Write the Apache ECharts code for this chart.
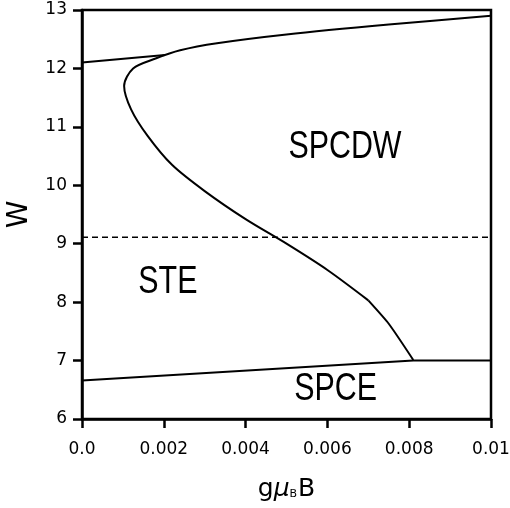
<!DOCTYPE html>
<html>
<head>
    <meta charset="utf-8">
    <title>Phase diagram</title>
    <script src="https://cdn.jsdelivr.net/npm/echarts@6/dist/echarts.min.js"></script>
</head>
<body style="margin:0;background:#fff">
<div id="main" style="width:510px;height:508px;"></div>

<script type="text/javascript">
    // boundary curves: [gμB·B, W]
    var leftLine = [[0, 12.10], [0.00203, 12.23]];
    // S-shaped boundary, upper smooth part and the steeper end below the kink
    var sCurveUpper = [
        [0.0100, 12.90], [0.0075, 12.75], [0.0050, 12.58], [0.0033, 12.43],
        [0.0024, 12.31], [0.0018, 12.17], [0.00125, 12.00], [0.00103, 11.70],
        [0.0012, 11.30], [0.0016, 10.85], [0.0022, 10.35], [0.0030, 9.90],
        [0.0040, 9.42], [0.0050, 9.00], [0.0060, 8.55], [0.0070, 8.03]
    ];
    var sCurveLower = [[0.0070, 8.03], [0.0075, 7.63], [0.0081, 7.01]];
    var bottomLine = [[0, 6.66], [0.0081, 7.0], [0.01, 7.0]];
    var dashLine = [[0, 9.11], [0.01, 9.11]];
    // region labels, placed at data coordinates
    var regionNames = ['SPCDW', 'STE', 'SPCE'];
    var regionPos = [[0.00643, 10.64], [0.0021, 8.33], [0.0062, 6.51]];
    var xTicks = [0, 0.002, 0.004, 0.006, 0.008, 0.01];
    var xTickText = ['0.0', '0.002', '0.004', '0.006', '0.008', '0.01'];

    var tickFont = 'DejaVu Sans, sans-serif';
    var line = {width: 2, color: '#000'};

    var option = {
        animation: false,
        backgroundColor: '#fff',
        grid: {
            left: 82, right: 19, top: 10, bottom: 89,
            containLabel: false, outerBoundsMode: 'none',
            show: true, borderColor: '#000', borderWidth: 2.5
        },
        xAxis: {
            type: 'value',
            min: 0, max: 0.01, interval: 0.002,
            name: '{a|g}{m|μ}{s|B}{a|B}',
            nameLocation: 'middle',
            nameGap: 58,
            nameTextStyle: {
                color: '#000',
                rich: {
                    a: {fontSize: 25, fontFamily: tickFont, color: '#000'},
                    m: {fontSize: 25, fontFamily: tickFont, fontStyle: 'italic', color: '#000'},
                    s: {fontSize: 11, fontFamily: tickFont, color: '#000', padding: [10, 1, 0, 0]}
                }
            },
            axisLine: {lineStyle: {color: '#000', width: 2.5}},
            axisTick: {length: 9, lineStyle: {color: '#000', width: 2.5}},
            splitLine: {show: false},
            axisLabel: {
                color: '#000', fontSize: 17, fontFamily: tickFont, margin: 22,
                formatter: function (v) {
                    var i = xTicks.findIndex(function (t) { return Math.abs(t - v) < 1e-9; });
                    return i >= 0 ? xTickText[i] : '';
                }
            }
        },
        yAxis: {
            type: 'value',
            min: 6, max: 13, interval: 1,
            name: 'W',
            nameLocation: 'middle',
            nameGap: 48,
            nameTextStyle: {color: '#000', fontSize: 28, fontFamily: tickFont},
            axisLine: {lineStyle: {color: '#000', width: 2.5}},
            axisTick: {length: 9, lineStyle: {color: '#000', width: 2.5}},
            splitLine: {show: false},
            axisLabel: {color: '#000', fontSize: 17, fontFamily: tickFont, margin: 15}
        },
        series: [
            {type: 'line', data: leftLine, showSymbol: false, lineStyle: line},
            {type: 'line', data: sCurveUpper, showSymbol: false, smooth: 0.3, lineStyle: line},
            {type: 'line', data: sCurveLower, showSymbol: false, smooth: 0.2, lineStyle: line},
            {type: 'line', data: bottomLine, showSymbol: false, lineStyle: line},
            {type: 'line', data: dashLine, showSymbol: false,
                lineStyle: {width: 1.5, color: '#000', type: [6, 4]}}
        ]
    };

    var myChart = echarts.init(document.getElementById('main'));
    myChart.setOption(option);

    // region names as narrow text at their data positions
    var texts = regionNames.map(function (name, i) {
        var p = myChart.convertToPixel({gridIndex: 0}, regionPos[i]);
        return {
            type: 'text', x: p[0], y: p[1], scaleX: 0.8,
            style: {
                text: name, fill: '#000', fontSize: 38,
                fontFamily: 'Liberation Sans, Arial, sans-serif',
                align: 'center', verticalAlign: 'middle'
            }
        };
    });
    myChart.setOption({graphic: texts});
</script>
</body>
</html>
